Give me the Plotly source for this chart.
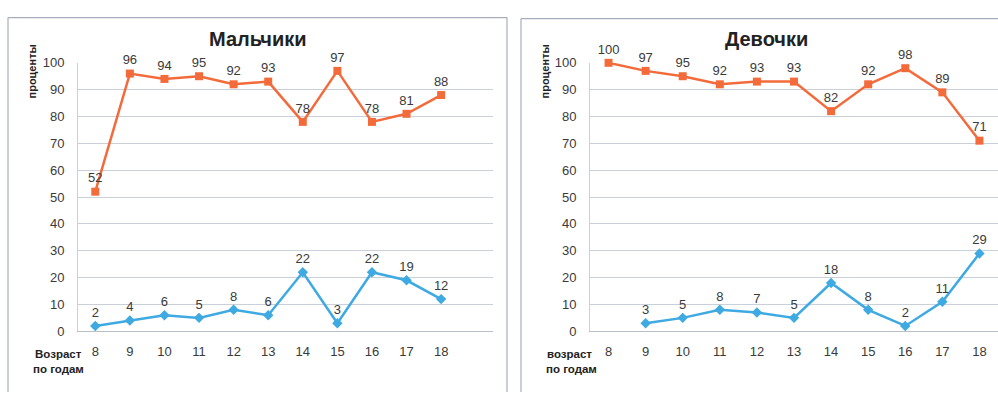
import plotly.graph_objects as go

ages = [8, 9, 10, 11, 12, 13, 14, 15, 16, 17, 18]
boys_orange = [52, 96, 94, 95, 92, 93, 78, 97, 78, 81, 88]
boys_blue = [2, 4, 6, 5, 8, 6, 22, 3, 22, 19, 12]
girls_orange = [100, 97, 95, 92, 93, 93, 82, 92, 98, 89, 71]
girls_blue = [None, 3, 5, 8, 7, 5, 18, 8, 2, 11, 29]
y_ticks = [0, 10, 20, 30, 40, 50, 60, 70, 80, 90, 100]

ORANGE = "#f36b3b"
BLUE = "#3fa9e1"
GRID = "#c9d0da"
TXT = "#3a3a3a"
FONT = "Liberation Sans"
W, H = 998, 398

fig = go.Figure()

def add_series(xa, ya, vals, color, symbol):
    fig.add_trace(go.Scatter(
        x=ages, y=vals, xaxis=xa, yaxis=ya, mode="lines+markers+text",
        line=dict(color=color, width=2.5),
        marker=dict(symbol=symbol, size=8, color=color),
        text=[("" if v is None else str(v)) for v in vals],
        textposition="top center", cliponaxis=False,
        textfont=dict(family=FONT, size=13, color=TXT),
        connectgaps=False, showlegend=False, hoverinfo="skip"))

add_series("x", "y", boys_orange, ORANGE, "square")
add_series("x", "y", boys_blue, BLUE, "diamond")
add_series("x2", "y2", girls_orange, ORANGE, "square")
add_series("x2", "y2", girls_blue, BLUE, "diamond")

ydom = [(H - 337) / H, (H - 58) / H]
common_y = dict(range=[0, 100], tickvals=y_ticks, showgrid=True, gridcolor=GRID,
                gridwidth=1, zeroline=False, showline=True, linecolor=GRID,
                ticks="", ticklabelstandoff=10,
                tickfont=dict(family=FONT, size=13, color=TXT), fixedrange=True)
common_x = dict(tickvals=ages, showgrid=False, zeroline=False, showline=True,
                linecolor="#b8c0cc", ticks="", ticklabelstandoff=8,
                tickfont=dict(family=FONT, size=13, color=TXT), fixedrange=True)

fig.update_layout(
    width=W, height=H, margin=dict(l=0, r=0, t=0, b=0),
    paper_bgcolor="white", plot_bgcolor="white",
    xaxis=dict(domain=[78 / W, 493 / W], range=[7.5, 19.5], anchor="y", **common_x),
    yaxis=dict(domain=ydom, anchor="x", **common_y),
    xaxis2=dict(domain=[590 / W, 1.0], range=[7.5, 18.5], anchor="y2", **common_x),
    yaxis2=dict(domain=ydom, anchor="x2", **common_y),
)

def px(x):
    return x / W

def py(y):
    return (H - y) / H

border = dict(color="#a7aebb", width=1.2)
shapes = [
    dict(type="line", xref="paper", yref="paper", x0=px(8), x1=px(8), y0=py(11), y1=py(400), line=border),
    dict(type="line", xref="paper", yref="paper", x0=px(8), x1=px(507), y0=py(11), y1=py(11), line=border),
    dict(type="line", xref="paper", yref="paper", x0=px(507), x1=px(507), y0=py(11), y1=py(400), line=border),
    dict(type="line", xref="paper", yref="paper", x0=px(521), x1=px(521), y0=py(12), y1=py(400), line=border),
    dict(type="line", xref="paper", yref="paper", x0=px(521), x1=px(1000), y0=py(12), y1=py(12), line=border),
]
fig.update_layout(shapes=shapes)

ann = []
def label(x, y, text, size, bold=False, angle=0):
    ann.append(dict(xref="paper", yref="paper", x=px(x), y=py(y), text=("<b>%s</b>" % text if bold else text),
                    showarrow=False, xanchor="center", yanchor="middle", textangle=angle,
                    font=dict(family=FONT, size=size, color="#222222")))

label(257, 33, "Мальчики", 20, True)
label(766, 33, "Девочки", 20, True)
label(32, 67, "проценты", 11, True, -90)
label(545, 67, "проценты", 11, True, -90)
label(58, 361, "Возраст", 11.5, True)
label(58, 376, "по годам", 11.5, True)
label(569, 361, "возраст", 11.5, True)
label(571, 376, "по годам", 11.5, True)
fig.update_layout(annotations=ann)

fig.write_html("out.html")
